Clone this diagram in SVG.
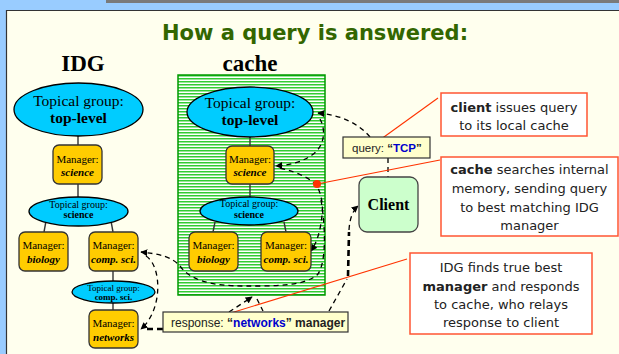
<svg xmlns="http://www.w3.org/2000/svg" width="619" height="354" viewBox="0 0 619 354">
<defs>
<style>
.serif{font-family:"Liberation Serif","Times New Roman",serif;fill:#000}
.sans{font-family:"Liberation Sans",Arial,sans-serif}
.call{font-family:"DejaVu Sans",Verdana,sans-serif;font-size:13px;fill:#222}
.ell{fill:#00ccff;stroke:#000;stroke-width:1.3}
.mgr{fill:#ffcc00;stroke:#333;stroke-width:1.3}
.tree{stroke:#333;stroke-width:1.4;fill:none}
.dash{fill:none;stroke:#000;stroke-width:1.3;stroke-dasharray:5 4}
.thick{fill:none;stroke:#000;stroke-width:2.6;stroke-dasharray:6 4}
.red{stroke:#ff3300;stroke-width:1.1;fill:none}
.dot{fill:#ff3300}
.callbox{fill:#fff;stroke:#ff5533;stroke-width:1.5}
.b{font-weight:bold}
</style>
<pattern id="stripes" width="4" height="3" patternUnits="userSpaceOnUse">
<rect width="4" height="3" fill="#ffffff"/>
<rect width="4" height="1.5" fill="#33cc33"/>
</pattern>
<marker id="ah" viewBox="0 0 10 10" refX="9" refY="5" markerWidth="7" markerHeight="7" orient="auto" markerUnits="userSpaceOnUse">
<path d="M0,0 L10,5 L0,10 z" fill="#000"/>
</marker>
</defs>

<!-- background / slide frame -->
<rect x="0" y="0" width="619" height="354" fill="#99ccff"/>
<rect x="106" y="0" width="513" height="3" fill="#7a7a7a"/>
<rect x="6" y="10" width="613" height="344" fill="#ffffee"/>
<path d="M6.5,354 V10.5 H619" fill="none" stroke="#333" stroke-width="1.2"/>

<text x="315" y="40" text-anchor="middle" font-family="'DejaVu Sans',Verdana,sans-serif" font-weight="bold" font-size="21" fill="#336600">How a query is answered:</text>
<text x="83" y="71" text-anchor="middle" class="serif b" font-size="23">IDG</text>
<text x="250" y="71" text-anchor="middle" class="serif b" font-size="23">cache</text>

<!-- cache container -->
<g id="cache-box">
<rect x="178" y="75" width="147" height="220" fill="url(#stripes)" stroke="#009900" stroke-width="1.5"/>
</g>

<!-- connectors -->
<g id="connectors">
<!-- tree lines IDG -->
<line class="tree" x1="78" y1="136" x2="78" y2="145"/>
<line class="tree" x1="78" y1="184" x2="78" y2="197"/>
<line class="tree" x1="46" y1="221" x2="44" y2="232"/>
<line class="tree" x1="111" y1="221" x2="113" y2="232"/>
<line class="tree" x1="113" y1="271" x2="113" y2="281"/>
<line class="tree" x1="113" y1="303" x2="113" y2="310"/>
<!-- tree lines cache -->
<line class="tree" x1="250" y1="137" x2="250" y2="146"/>
<line class="tree" x1="250" y1="184" x2="250" y2="197"/>
<line class="tree" x1="215" y1="222" x2="213" y2="232"/>
<line class="tree" x1="284" y1="222" x2="286" y2="232"/>

<!-- dashed message flow -->
<path class="dash" d="M370,137 Q352,116 318,113" marker-end="url(#ah)"/>
<path class="dash" d="M388,158 L388,177"/>
<path class="dash" d="M320,119 C326,130 325,146 312,155 C302,162 290,165 276,166" marker-end="url(#ah)"/>
<path class="dash" d="M280,168 Q308,175 317,186 Q324,200 322,215 Q320,238 311,251" marker-end="url(#ah)"/>
<path class="dash" d="M321,200 C326,230 326,262 318,274 C305,287 270,286 245,286 C210,286 190,280 180,266 C172,257 160,254 141,252" marker-end="url(#ah)"/>
<path class="dash" d="M146,256 C162,266 163,310 141,329" marker-end="url(#ah)"/>
<path class="thick" d="M163,329 L143,329"/>
<path class="dash" d="M229,312 L252,297" marker-end="url(#ah)"/>
<path class="dash" d="M257,299 L263,311"/>
<path class="dash" d="M329,311 L347,279"/>
<path class="thick" d="M348,276 L349,232"/>
<path class="dash" d="M349,230 Q350,213 358,206" marker-end="url(#ah)"/>

<!-- red callout pointers -->
<line class="red" x1="377" y1="142" x2="438" y2="98"/>
<circle class="dot" cx="377" cy="142" r="4"/>
<line class="red" x1="317" y1="184" x2="440" y2="160"/>
<circle class="dot" cx="317" cy="184" r="4"/>
<line class="red" x1="221" y1="316" x2="407" y2="259"/>
<circle class="dot" cx="221" cy="316" r="4"/>
</g>

<!-- IDG nodes -->
<g id="idg-top">
<ellipse class="ell" cx="78.5" cy="109.5" rx="64.5" ry="26.5"/>
<text x="78.5" y="106" text-anchor="middle" class="serif" font-size="15.5">Topical group:</text>
<text x="78.5" y="123" text-anchor="middle" class="serif b" font-size="15.5">top-level</text>
</g>
<g id="idg-mgr-science">
<rect class="mgr" x="53" y="145" width="49" height="39" rx="6"/>
<text x="77.5" y="163" text-anchor="middle" class="serif" font-size="11">Manager:</text>
<text x="77.5" y="176" text-anchor="middle" class="serif b" font-style="italic" font-size="11">science</text>
</g>
<g id="idg-sci">
<ellipse class="ell" cx="78.5" cy="211.5" rx="49.5" ry="14.5"/>
<text x="78.5" y="208" text-anchor="middle" class="serif" font-size="10">Topical group:</text>
<text x="78.5" y="218" text-anchor="middle" class="serif b" font-size="10">science</text>
</g>
<g id="idg-mgr-bio">
<rect class="mgr" x="19" y="232" width="49" height="39" rx="6"/>
<text x="43.5" y="249" text-anchor="middle" class="serif" font-size="11">Manager:</text>
<text x="43.5" y="263" text-anchor="middle" class="serif b" font-style="italic" font-size="11">biology</text>
</g>
<g id="idg-mgr-cs">
<rect class="mgr" x="89" y="232" width="49" height="39" rx="6"/>
<text x="113.5" y="249" text-anchor="middle" class="serif" font-size="11">Manager:</text>
<text x="113.5" y="263" text-anchor="middle" class="serif b" font-style="italic" font-size="11">comp. sci.</text>
</g>
<g id="idg-cs">
<ellipse class="ell" cx="113.5" cy="292" rx="41.5" ry="11"/>
<text x="113.5" y="291" text-anchor="middle" class="serif" font-size="9">Topical group:</text>
<text x="113.5" y="300" text-anchor="middle" class="serif b" font-size="9">comp. sci.</text>
</g>
<g id="idg-mgr-net">
<rect class="mgr" x="89" y="310" width="49" height="38" rx="6"/>
<text x="113.5" y="327" text-anchor="middle" class="serif" font-size="11">Manager:</text>
<text x="113.5" y="341" text-anchor="middle" class="serif b" font-style="italic" font-size="11">networks</text>
</g>

<!-- cache nodes -->
<g id="cache-top">
<ellipse class="ell" cx="250" cy="112" rx="63" ry="25"/>
<text x="250" y="108" text-anchor="middle" class="serif" font-size="15.5">Topical group:</text>
<text x="250" y="125" text-anchor="middle" class="serif b" font-size="15.5">top-level</text>
</g>
<g id="cache-mgr-science">
<rect class="mgr" x="226" y="146" width="48" height="38" rx="6"/>
<text x="250" y="163" text-anchor="middle" class="serif" font-size="11">Manager:</text>
<text x="250" y="176" text-anchor="middle" class="serif b" font-style="italic" font-size="11">science</text>
</g>
<g id="cache-sci">
<ellipse class="ell" cx="249" cy="211" rx="49" ry="14"/>
<text x="249" y="207" text-anchor="middle" class="serif" font-size="10">Topical group:</text>
<text x="249" y="218" text-anchor="middle" class="serif b" font-size="10">science</text>
</g>
<g id="cache-mgr-bio">
<rect class="mgr" x="189" y="232" width="49" height="39" rx="6"/>
<text x="213.5" y="249" text-anchor="middle" class="serif" font-size="11">Manager:</text>
<text x="213.5" y="263" text-anchor="middle" class="serif b" font-style="italic" font-size="11">biology</text>
</g>
<g id="cache-mgr-cs">
<rect class="mgr" x="261" y="232" width="50" height="39" rx="6"/>
<text x="286" y="249" text-anchor="middle" class="serif" font-size="11">Manager:</text>
<text x="286" y="263" text-anchor="middle" class="serif b" font-style="italic" font-size="11">comp. sci.</text>
</g>

<!-- query / client / response -->
<g id="query">
<rect x="343" y="137" width="87" height="21" fill="#ffffcc" stroke="#333" stroke-width="1.2"/>
<text x="352" y="152" class="sans" font-size="11.5" fill="#222">query: <tspan class="b">“<tspan fill="#0000cc">TCP</tspan>”</tspan></text>
</g>
<g id="client">
<rect x="359" y="177" width="59" height="55" rx="8" fill="#ccffcc" stroke="#444" stroke-width="1.3"/>
<text x="388.5" y="210" text-anchor="middle" class="serif b" font-size="16">Client</text>
</g>
<g id="response">
<rect x="163" y="312" width="185" height="20" fill="#ffffcc" stroke="#333" stroke-width="1.2"/>
<text x="171" y="327" class="sans" font-size="12" fill="#222">response: <tspan class="b">“<tspan fill="#0000cc">networks</tspan>” manager</tspan></text>
</g>

<!-- callouts -->
<g id="callout-client">
<rect class="callbox" x="441" y="93" width="146" height="43"/>
<text x="514" y="112" text-anchor="middle" class="call"><tspan class="b">client</tspan> issues query</text>
<text x="514" y="130" text-anchor="middle" class="call">to its local cache</text>
</g>
<g id="callout-cache">
<rect class="callbox" x="441" y="157" width="177" height="79"/>
<text x="529.5" y="174" text-anchor="middle" class="call"><tspan class="b">cache</tspan> searches internal</text>
<text x="529.5" y="193" text-anchor="middle" class="call">memory, sending query</text>
<text x="529.5" y="212" text-anchor="middle" class="call">to best matching IDG</text>
<text x="529.5" y="230" text-anchor="middle" class="call">manager</text>
</g>
<g id="callout-idg">
<rect class="callbox" x="410" y="253" width="182" height="81"/>
<text x="501" y="272" text-anchor="middle" class="call">IDG finds true best</text>
<text x="501" y="291" text-anchor="middle" class="call"><tspan class="b">manager</tspan> and  responds</text>
<text x="501" y="309" text-anchor="middle" class="call">to cache, who relays</text>
<text x="501" y="327" text-anchor="middle" class="call">response to client</text>
</g>
</svg>
